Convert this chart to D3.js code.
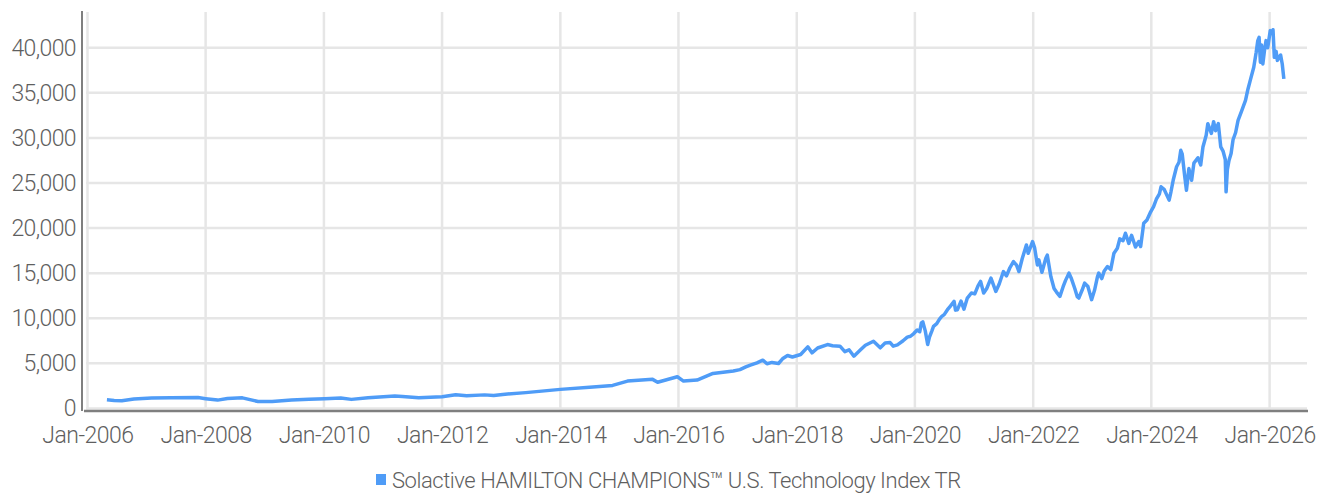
<!DOCTYPE html>
<html>
<head>
<meta charset="utf-8">
<script src="https://cdn.jsdelivr.net/npm/d3@7"></script>
<style>
  html, body { margin: 0; padding: 0; background: #fff; }
  svg text { font-family: Roboto, 'Liberation Sans', sans-serif; font-weight: 300; fill: #5f5f5f; }
</style>
</head>
<body>
<main></main>
<script>
const seriesName = 'Solactive HAMILTON CHAMPIONS\u2122 U.S. Technology Index TR';

const dates = [
  '2006-05-01', '2006-06-15', '2006-08-01', '2006-10-15', '2007-02-01', '2007-06-01', '2007-11-15',
  '2008-01-01', '2008-03-15', '2008-05-15', '2008-08-15', '2008-11-20', '2009-02-15', '2009-06-15',
  '2009-10-01', '2010-01-05', '2010-04-15', '2010-06-20', '2010-10-01', '2011-03-15', '2011-05-01',
  '2011-08-10', '2012-01-01', '2012-03-25', '2012-06-01', '2012-09-20', '2012-11-15', '2013-01-10',
  '2013-06-01', '2014-01-01', '2014-07-01', '2014-11-20', '2015-02-20', '2015-07-25', '2015-08-25',
  '2015-12-25', '2016-02-01', '2016-04-25', '2016-08-01', '2016-12-05', '2017-01-15', '2017-02-20',
  '2017-03-20', '2017-04-30', '2017-06-05', '2017-07-01', '2017-08-01', '2017-09-10', '2017-10-05',
  '2017-11-05', '2017-12-05', '2018-01-25', '2018-03-10', '2018-04-05', '2018-05-10', '2018-07-10',
  '2018-08-10', '2018-09-25', '2018-10-25', '2018-11-20', '2018-12-20', '2019-01-30', '2019-03-01',
  '2019-04-20', '2019-06-01', '2019-07-01', '2019-08-01', '2019-08-20', '2019-09-15', '2019-10-20',
  '2019-11-15', '2019-12-05', '2019-12-25', '2020-01-15', '2020-01-31', '2020-02-10', '2020-02-19',
  '2020-03-05', '2020-03-20', '2020-03-31', '2020-04-15', '2020-04-25', '2020-05-15', '2020-06-01',
  '2020-06-15', '2020-06-30', '2020-07-20', '2020-08-05', '2020-08-30', '2020-09-08', '2020-09-20',
  '2020-10-12', '2020-10-30', '2020-11-20', '2020-12-15', '2021-01-05', '2021-01-25', '2021-02-10',
  '2021-03-01', '2021-03-20', '2021-04-15', '2021-05-15', '2021-06-05', '2021-07-01', '2021-07-20',
  '2021-08-10', '2021-09-01', '2021-09-20', '2021-10-05', '2021-10-25', '2021-11-20', '2021-12-01',
  '2021-12-28', '2022-01-10', '2022-01-27', '2022-02-05', '2022-02-24', '2022-03-20', '2022-03-29',
  '2022-04-20', '2022-05-10', '2022-05-25', '2022-06-15', '2022-07-05', '2022-07-20', '2022-08-10',
  '2022-08-25', '2022-09-15', '2022-09-30', '2022-10-10', '2022-10-30', '2022-11-15', '2022-12-05',
  '2022-12-28', '2023-01-15', '2023-02-02', '2023-02-10', '2023-03-01', '2023-03-15', '2023-04-05',
  '2023-04-25', '2023-05-15', '2023-06-05', '2023-06-20', '2023-07-10', '2023-07-25', '2023-08-15',
  '2023-09-01', '2023-09-25', '2023-10-15', '2023-10-27', '2023-11-15', '2023-12-05', '2023-12-28',
  '2024-01-15', '2024-02-01', '2024-02-20', '2024-03-01', '2024-03-20', '2024-04-20', '2024-05-01',
  '2024-05-15', '2024-06-05', '2024-06-20', '2024-07-01', '2024-07-10', '2024-07-25', '2024-08-05',
  '2024-08-20', '2024-09-06', '2024-09-20', '2024-10-15', '2024-11-01', '2024-11-15', '2024-12-05',
  '2024-12-15', '2025-01-06', '2025-01-20', '2025-02-01', '2025-02-18', '2025-03-05', '2025-03-20',
  '2025-04-02', '2025-04-07', '2025-04-15', '2025-04-25', '2025-05-08', '2025-05-20', '2025-06-05',
  '2025-06-20', '2025-07-10', '2025-08-05', '2025-08-20', '2025-09-05', '2025-09-25', '2025-10-10',
  '2025-10-20', '2025-10-28', '2025-11-05', '2025-11-12', '2025-11-20', '2025-12-01', '2025-12-10',
  '2025-12-20', '2026-01-05', '2026-01-15', '2026-01-22', '2026-01-30', '2026-02-10', '2026-02-18',
  '2026-02-28', '2026-03-10', '2026-03-20', '2026-03-30'
];

const values = [
  950, 880, 860, 1050, 1150, 1180, 1200,
  1080, 920, 1100, 1170, 760, 760, 930,
  1020, 1080, 1150, 1000, 1190, 1370, 1330,
  1170, 1300, 1520, 1400, 1500, 1420, 1550,
  1750, 2110, 2350, 2550, 3030, 3220, 2900,
  3510, 3030, 3140, 3880, 4140, 4300, 4600,
  4800, 5060, 5350, 4950, 5100, 4980, 5500,
  5870, 5700, 5980, 6830, 6160, 6700, 7080,
  6950, 6900, 6300, 6500, 5790, 6500, 7000,
  7450, 6720, 7250, 7300, 6900, 7050, 7500,
  7900, 8000, 8300, 8700, 8500, 9480, 9600,
  8600, 7080, 7900, 8600, 9100, 9400, 9900,
  10200, 10400, 10950, 11300, 11870, 10900, 10950,
  11900, 11000, 12240, 12800, 12700, 13600, 14080,
  12790, 13300, 14450, 12970, 13800, 15180, 14700,
  15600, 16290, 15900, 15180, 16600, 18130, 17200,
  18500, 17800, 15900, 16480, 15100, 16660, 17000,
  14630, 13300, 12900, 12420, 13500, 14200, 15000,
  14400, 13300, 12400, 12240, 13100, 13900, 13520,
  12060, 13100, 14600, 15000, 14400, 15200, 15730,
  15400, 17220, 17760, 18800, 18600, 19430, 18300,
  19200, 17900, 18500, 17950, 20530, 20900, 21800,
  22370, 23200, 23800, 24580, 24300, 23100, 24000,
  25300, 26800, 27300, 28630, 28200, 25800, 24200,
  26600, 25300, 27200, 27800, 27000, 29000, 30300,
  31580, 30500, 31800, 30800, 31580, 29000, 28500,
  27600, 24020, 26500, 27500, 28260, 29800, 30600,
  31950, 32900, 34160, 35400, 36500, 37830, 39500,
  40800, 41150, 38400, 40300, 38200, 39800, 40790,
  40000, 41900, 41600, 42000, 38940, 39600, 38600,
  38940, 39200, 38200, 36550
];

const yTicks = [0, 5000, 10000, 15000, 20000, 25000, 30000, 35000, 40000];
const xTicks = ['2006-01-01', '2008-01-01', '2010-01-01', '2012-01-01', '2014-01-01', '2016-01-01',
  '2018-01-01', '2020-01-01', '2022-01-01', '2024-01-01', '2026-01-01'];

const width = 1325;
const height = 495;
const parse = d3.timeParse('%Y-%m-%d');
const data = dates.map((d, i) => ({ date: parse(d), value: values[i] }));

const x = d3.scaleTime()
  .domain([parse('2006-01-01'), parse('2026-08-20')])
  .range([87.5, 1307]);

const y = d3.scaleLinear()
  .domain([0, 44000])
  .range([408.4, 11.7]);

const svg = d3.select('main')
  .append('svg')
  .attr('width', width)
  .attr('height', height)

// Horizontal grid
svg.append('g')
  .selectAll('line')
  .data(yTicks)
  .enter()
  .append('line')
  .attr('x1', 86)
  .attr('x2', 1307)
  .attr('y1', d => y(d))
  .attr('y2', d => y(d))
  .style('stroke', '#e6e6e6')
  .style('stroke-width', 2.5)

// Vertical grid
svg.append('g')
  .selectAll('line')
  .data(xTicks.map(parse))
  .enter()
  .append('line')
  .attr('x1', d => x(d))
  .attr('x2', d => x(d))
  .attr('y1', 12)
  .attr('y2', 409.5)
  .style('stroke', '#e6e6e6')
  .style('stroke-width', 2.5)

// Y axis
const yAxis = d3.axisLeft(y)
  .tickValues(yTicks)
  .tickSize(0)
  .tickPadding(0)
  .tickFormat(d3.format(','))

const yG = svg.append('g')
  .attr('transform', 'translate(76, 0)')
  .call(yAxis)
yG.select('.domain').remove()
yG.selectAll('text')
  .attr('dy', '0.33em')
  .style('font-size', '23px')
  .style('letter-spacing', '-0.6px')

svg.append('line')
  .attr('x1', 82).attr('x2', 82)
  .attr('y1', 11).attr('y2', 411)
  .style('stroke', '#7f7f7f')
  .style('stroke-width', 2)

// X axis
const xAxis = d3.axisBottom(x)
  .tickValues(xTicks.map(parse))
  .tickSize(0)
  .tickPadding(0)
  .tickFormat(d3.timeFormat('%b-%Y'))

const xG = svg.append('g')
  .attr('transform', 'translate(0, 412)')
  .call(xAxis)
xG.select('.domain').remove()
xG.selectAll('text')
  .attr('dy', '31px')
  .style('font-size', '23px')
  .style('letter-spacing', '-0.5px')

svg.append('line')
  .attr('x1', 84).attr('x2', 1308)
  .attr('y1', 411).attr('y2', 411)
  .style('stroke', '#7f7f7f')
  .style('stroke-width', 2.5)

// Line
const line = d3.line()
  .x(d => x(d.date))
  .y(d => y(d.value))

svg.append('path')
  .datum(data)
  .attr('d', line)
  .style('fill', 'none')
  .style('stroke', '#4f9cf7')
  .style('stroke-width', 3.5)
  .style('stroke-linejoin', 'round')

// Legend
const legend = svg.append('g')
  .attr('transform', 'translate(376, 474)')

legend.append('rect')
  .attr('width', 10)
  .attr('height', 11)
  .style('fill', '#4f9cf7')

legend.append('text')
  .attr('x', 16)
  .attr('y', 14)
  .text(seriesName)
  .style('font-size', '22px')
  .style('letter-spacing', '-0.45px')
</script>
</body>
</html>
